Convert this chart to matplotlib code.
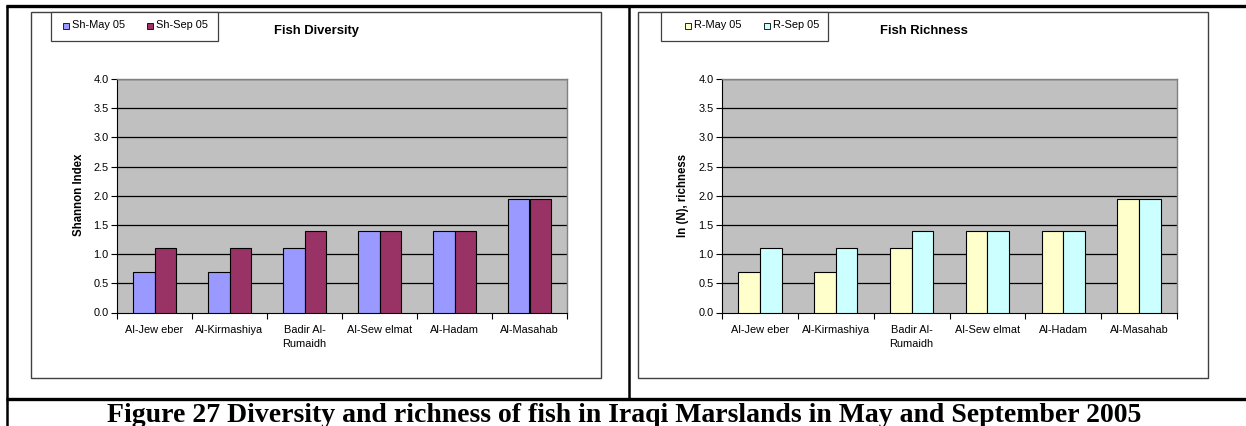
import matplotlib
matplotlib.use("Agg")
import matplotlib.pyplot as plt
import numpy as np
from matplotlib.patches import Rectangle
from matplotlib.lines import Line2D

sites = ["Al-Jew eber", "Al-Kirmashiya", "Badir Al-\nRumaidh", "Al-Sew elmat", "Al-Hadam", "Al-Masahab"]
sh_may = [0.69, 0.69, 1.10, 1.39, 1.39, 1.95]
sh_sep = [1.10, 1.10, 1.39, 1.39, 1.39, 1.95]
r_may = [0.69, 0.69, 1.10, 1.39, 1.39, 1.95]
r_sep = [1.10, 1.10, 1.39, 1.39, 1.39, 1.95]
yticks = [0.0, 0.5, 1.0, 1.5, 2.0, 2.5, 3.0, 3.5, 4.0]

W, H = 1246, 426
fig = plt.figure(figsize=(W / 100, H / 100), dpi=100)
fig.patch.set_facecolor("white")
plt.rcParams["font.family"] = ["Liberation Sans", "DejaVu Sans"]

FS = 7.9


def fx(x):
    return x / W


def fy(y):
    return 1 - y / H


def hline(x0, x1, y, lw, color="black"):
    fig.add_artist(Line2D([fx(x0), fx(x1)], [fy(y), fy(y)], transform=fig.transFigure,
                          color=color, lw=lw, solid_capstyle="butt"))


def vline(x, y0, y1, lw, color="black"):
    fig.add_artist(Line2D([fx(x), fx(x)], [fy(y0), fy(y1)], transform=fig.transFigure,
                          color=color, lw=lw, solid_capstyle="butt"))


# table lines
hline(6, 1246, 6, 2.4)
hline(6, 1246, 399, 2.4)
vline(7, 5, 426, 1.8)
vline(629, 5, 400, 1.8)

fig.text(fx(624), fy(421.5), "Figure 27 Diversity and richness of fish in Iraqi Marslands in May and September 2005",
         ha="center", va="baseline", fontsize=20, fontweight="bold", family="Liberation Serif")


def panel(x0, x1, px0, px1, may, sep, c_may, c_sep, lab_may, lab_sep, title, ylabel, ylx,
          legx0, legx1, mk):
    # chart frame
    fig.add_artist(Rectangle((fx(x0), fy(378)), fx(x1) - fx(x0), fy(12) - fy(378),
                             transform=fig.transFigure, facecolor="white", edgecolor="#404040", lw=1.0, zorder=0))
    ax = fig.add_axes([fx(px0), fy(312.5), fx(px1) - fx(px0), fy(79) - fy(312.5)])
    ax.set_facecolor("#C0C0C0")
    x = np.arange(len(sites))
    w = 1 / 3.5
    ax.bar(x - w / 2, may, w, color=c_may, edgecolor="black", lw=0.8, zorder=3)
    ax.bar(x + w / 2, sep, w, color=c_sep, edgecolor="black", lw=0.8, zorder=3)
    ax.set_xlim(-0.5, len(sites) - 0.5)
    ax.set_ylim(0, 4.0)
    ax.set_yticks(yticks)
    ax.set_yticklabels([f"{v:.1f}" for v in yticks], fontsize=FS)
    for v in yticks[1:]:
        ax.axhline(v, color="black", lw=0.9, zorder=1)
    ax.set_xticks(x)
    ax.set_xticklabels(sites, fontsize=FS, linespacing=1.5)
    ax.set_xticks(np.arange(-0.5, len(sites)), minor=True)
    ax.tick_params(axis="x", which="major", length=0, pad=9)
    ax.tick_params(axis="x", which="minor", length=4, width=0.8, direction="out")
    ax.tick_params(axis="y", length=4, width=0.8, direction="out", pad=2)
    for s in ["top", "right"]:
        ax.spines[s].set_color("#808080")
        ax.spines[s].set_linewidth(1.0)
    ax.spines["left"].set_color("black")
    ax.spines["bottom"].set_color("black")
    ax.spines["left"].set_linewidth(0.8)
    ax.spines["bottom"].set_linewidth(0.8)
    fig.text(fx(ylx), fy(195), ylabel, rotation=90, ha="center", va="center", fontsize=8.3, fontweight="bold")
    # title
    fig.text(fx(title[1]), fy(31), title[0], ha="center", va="center", fontsize=9.4, fontweight="bold")
    # legend box
    fig.add_artist(Rectangle((fx(legx0), fy(41)), fx(legx1) - fx(legx0), fy(12) - fy(41),
                             transform=fig.transFigure, facecolor="white", edgecolor="#404040", lw=0.9))
    for sx, lab, c in zip(mk, [lab_may, lab_sep], [c_may, c_sep]):
        fig.add_artist(Rectangle((fx(sx), fy(28.5)), fx(6) - fx(0), fy(0) - fy(6),
                                 transform=fig.transFigure, facecolor=c, edgecolor="black", lw=0.6))
        fig.text(fx(sx + 9), fy(25.5), lab, ha="left", va="center", fontsize=FS)


panel(31, 601, 117, 567, sh_may, sh_sep, "#9999FF", "#993366", "Sh-May 05", "Sh-Sep 05",
      ("Fish Diversity", 316), "Shannon Index", 79, 51, 218, (63, 147))
panel(638, 1208, 722, 1177, r_may, r_sep, "#FFFFCC", "#CCFFFF", "R-May 05", "R-Sep 05",
      ("Fish Richness", 924), "ln (N), richness", 683, 661, 828, (685, 764))

fig.savefig("out.png", dpi=100)
